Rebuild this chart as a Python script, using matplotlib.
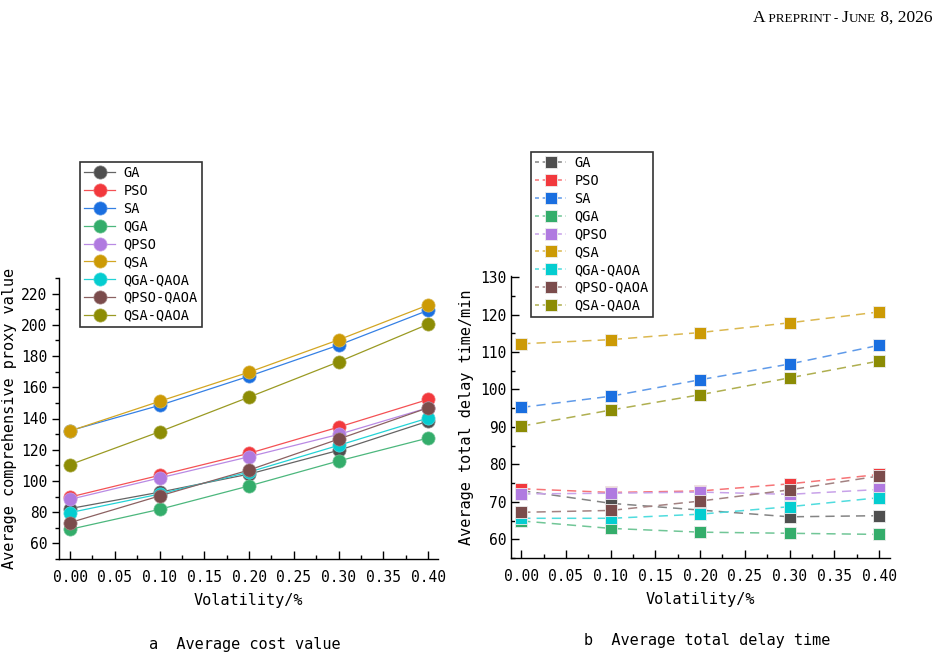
import matplotlib
matplotlib.use("Agg")
import matplotlib.pyplot as plt
from matplotlib.ticker import MultipleLocator, FormatStrFormatter
from matplotlib.lines import Line2D
from matplotlib.colors import to_rgb

volatility = [0.00, 0.10, 0.20, 0.30, 0.40]
algorithms = ["GA", "PSO", "SA", "QGA", "QPSO", "QSA", "QGA-QAOA", "QPSO-QAOA", "QSA-QAOA"]
colors = ["#4f4f4f", "#f2393d", "#1a6fe0", "#34ad6b", "#b07ae0", "#cc9a05", "#05cdd0", "#7b4c4c", "#8c8c05"]

cost_GA = [82.3, 92.8, 104.4, 119.6, 138.3]
cost_PSO = [89.7, 103.6, 117.7, 134.5, 152.2]
cost_SA = [132.2, 148.4, 167.1, 187.0, 209.3]
cost_QGA = [69.0, 81.8, 96.8, 112.8, 127.5]
cost_QPSO = [88.2, 101.9, 115.5, 129.8, 146.9]
cost_QSA = [132.0, 151.0, 169.7, 190.4, 212.7]
cost_QGA_QAOA = [79.7, 91.6, 105.7, 122.8, 140.3]
cost_QPSO_QAOA = [73.3, 90.4, 107.0, 126.8, 146.9]
cost_QSA_QAOA = [110.4, 131.5, 153.7, 176.3, 200.4]

delay_GA = [73.0, 69.6, 67.8, 66.0, 66.3]
delay_PSO = [73.5, 72.5, 72.9, 74.8, 77.3]
delay_SA = [95.2, 98.2, 102.6, 106.8, 111.8]
delay_QGA = [64.9, 62.9, 61.9, 61.6, 61.3]
delay_QPSO = [72.1, 72.3, 72.6, 72.0, 73.3]
delay_QSA = [112.2, 113.3, 115.2, 117.8, 120.7]
delay_QGA_QAOA = [65.6, 65.6, 66.7, 68.7, 71.1]
delay_QPSO_QAOA = [67.2, 67.7, 70.2, 73.2, 76.9]
delay_QSA_QAOA = [90.2, 94.5, 98.6, 103.1, 107.6]

cost_series = [cost_GA, cost_PSO, cost_SA, cost_QGA, cost_QPSO, cost_QSA,
               cost_QGA_QAOA, cost_QPSO_QAOA, cost_QSA_QAOA]
delay_series = [delay_GA, delay_PSO, delay_SA, delay_QGA, delay_QPSO, delay_QSA,
                delay_QGA_QAOA, delay_QPSO_QAOA, delay_QSA_QAOA]


def lighten(c, f):
    r, g, b = to_rgb(c)
    return (r + (1 - r) * f, g + (1 - g) * f, b + (1 - b) * f)


MONO = ["DejaVu Sans Mono"]
plt.rcParams['font.family'] = MONO
plt.rcParams['axes.linewidth'] = 1.0

W, H = 938, 660
fig = plt.figure(figsize=(W / 100, H / 100), dpi=100)

ax1 = fig.add_axes([59 / W, 1 - 559 / H, (438 - 59) / W, (559 - 278) / H])
ax2 = fig.add_axes([511 / W, 1 - 558 / H, (890 - 511) / W, (558 - 276) / H])

h1 = []
for name, c, ys in zip(algorithms, colors, cost_series):
    ax1.plot(volatility, ys, '-', color=lighten(c, 0.12), lw=0.9)
    ax1.plot(volatility, ys, linestyle='none', marker='o', ms=9.5, mfc=c,
             mec=lighten(c, 0.3), mew=0.5)
    h1.append(Line2D([], [], color=lighten(c, 0.12), lw=0.9, marker='o', ms=9.5,
                     mfc=c, mec=lighten(c, 0.3), mew=0.5))

h2 = []
for name, c, ys in zip(algorithms, colors, delay_series):
    lc = lighten(c, 0.3)
    ax2.plot(volatility, ys, linestyle=(0, (6, 4)), color=lc, lw=1.1)
    ax2.plot(volatility, ys, linestyle='none', marker='s', ms=8.5, mfc=c,
             mec='#eeeeee', mew=0.6)
    h2.append(Line2D([], [], color=lc, linestyle=(0, (2.6, 2.4)), lw=1.1,
                     marker='s', ms=8.5, mfc=c, mec='#eeeeee', mew=0.6))

ax1.set_xlim(-0.0123, 0.411)
ax1.set_ylim(50, 230)
ax2.set_xlim(-0.0115, 0.4123)
ax2.set_ylim(55, 130.3)

for ax in (ax1, ax2):
    ax.spines['top'].set_visible(False)
    ax.spines['right'].set_visible(False)
    ax.xaxis.set_major_locator(MultipleLocator(0.05))
    ax.xaxis.set_minor_locator(MultipleLocator(0.025))
    ax.xaxis.set_major_formatter(FormatStrFormatter('%.2f'))
    ax.tick_params(axis='x', which='both', direction='in', labelsize=10.5, pad=8)
    ax.tick_params(axis='x', which='major', length=6, width=1)
    ax.tick_params(axis='x', which='minor', length=3, width=1)
    ax.set_xlabel("Volatility/%", fontsize=11, labelpad=6)

ax1.yaxis.set_major_locator(MultipleLocator(20))
ax1.yaxis.set_minor_locator(MultipleLocator(10))
ax1.tick_params(axis='y', which='both', direction='out', labelsize=10.5)
ax1.tick_params(axis='y', which='major', length=5, width=1)
ax1.tick_params(axis='y', which='minor', length=3, width=1)
ax1.set_ylabel("Average comprehensive proxy value", fontsize=11, labelpad=3)

ax2.yaxis.set_major_locator(MultipleLocator(10))
ax2.yaxis.set_minor_locator(MultipleLocator(5))
ax2.tick_params(axis='y', which='both', direction='in', labelsize=10.5)
ax2.tick_params(axis='y', which='major', length=6, width=1)
ax2.tick_params(axis='y', which='minor', length=3, width=1)
ax2.set_ylabel("Average total delay time/min", fontsize=11, labelpad=4)

leg_kw = dict(fontsize=9.8, frameon=True, fancybox=False, edgecolor='black',
              labelspacing=0.28, borderpad=0.3, handletextpad=0.6, borderaxespad=0)
l1 = fig.legend(h1, algorithms, loc='upper left',
                bbox_to_anchor=(80 / W, 1 - 162 / H), handlelength=2.3, **leg_kw)
l1.get_frame().set_linewidth(1.2)

l2 = fig.legend(h2, algorithms, loc='upper left',
                bbox_to_anchor=(531 / W, 1 - 152 / H), handlelength=2.3, **leg_kw)
l2.get_frame().set_linewidth(1.2)

fig.text(245 / W, 1 - 645 / H, "a  Average cost value", ha='center', va='center', fontsize=11)
fig.text(707 / W, 1 - 641 / H, "b  Average total delay time", ha='center', va='center', fontsize=11)

# header in small caps
pieces = [("A", 12.5), (" PREPRINT - ", 9.5), ("J", 12.5), ("UNE", 9.5), (" 8, 2026", 12.5)]
renderer = fig.canvas.get_renderer()
widths = []
tmp = []
for s, sz in pieces:
    t = fig.text(0, 0, s, fontsize=sz, family=["Liberation Serif"])
    bb = t.get_window_extent(renderer=renderer)
    widths.append(bb.width)
    tmp.append(t)
total = sum(widths)
x = 932 - total
for t, w in zip(tmp, widths):
    t.set_position((x / W, 1 - 22 / H))
    t.set_va('baseline')
    x += w

fig.savefig("out.png", dpi=100)
